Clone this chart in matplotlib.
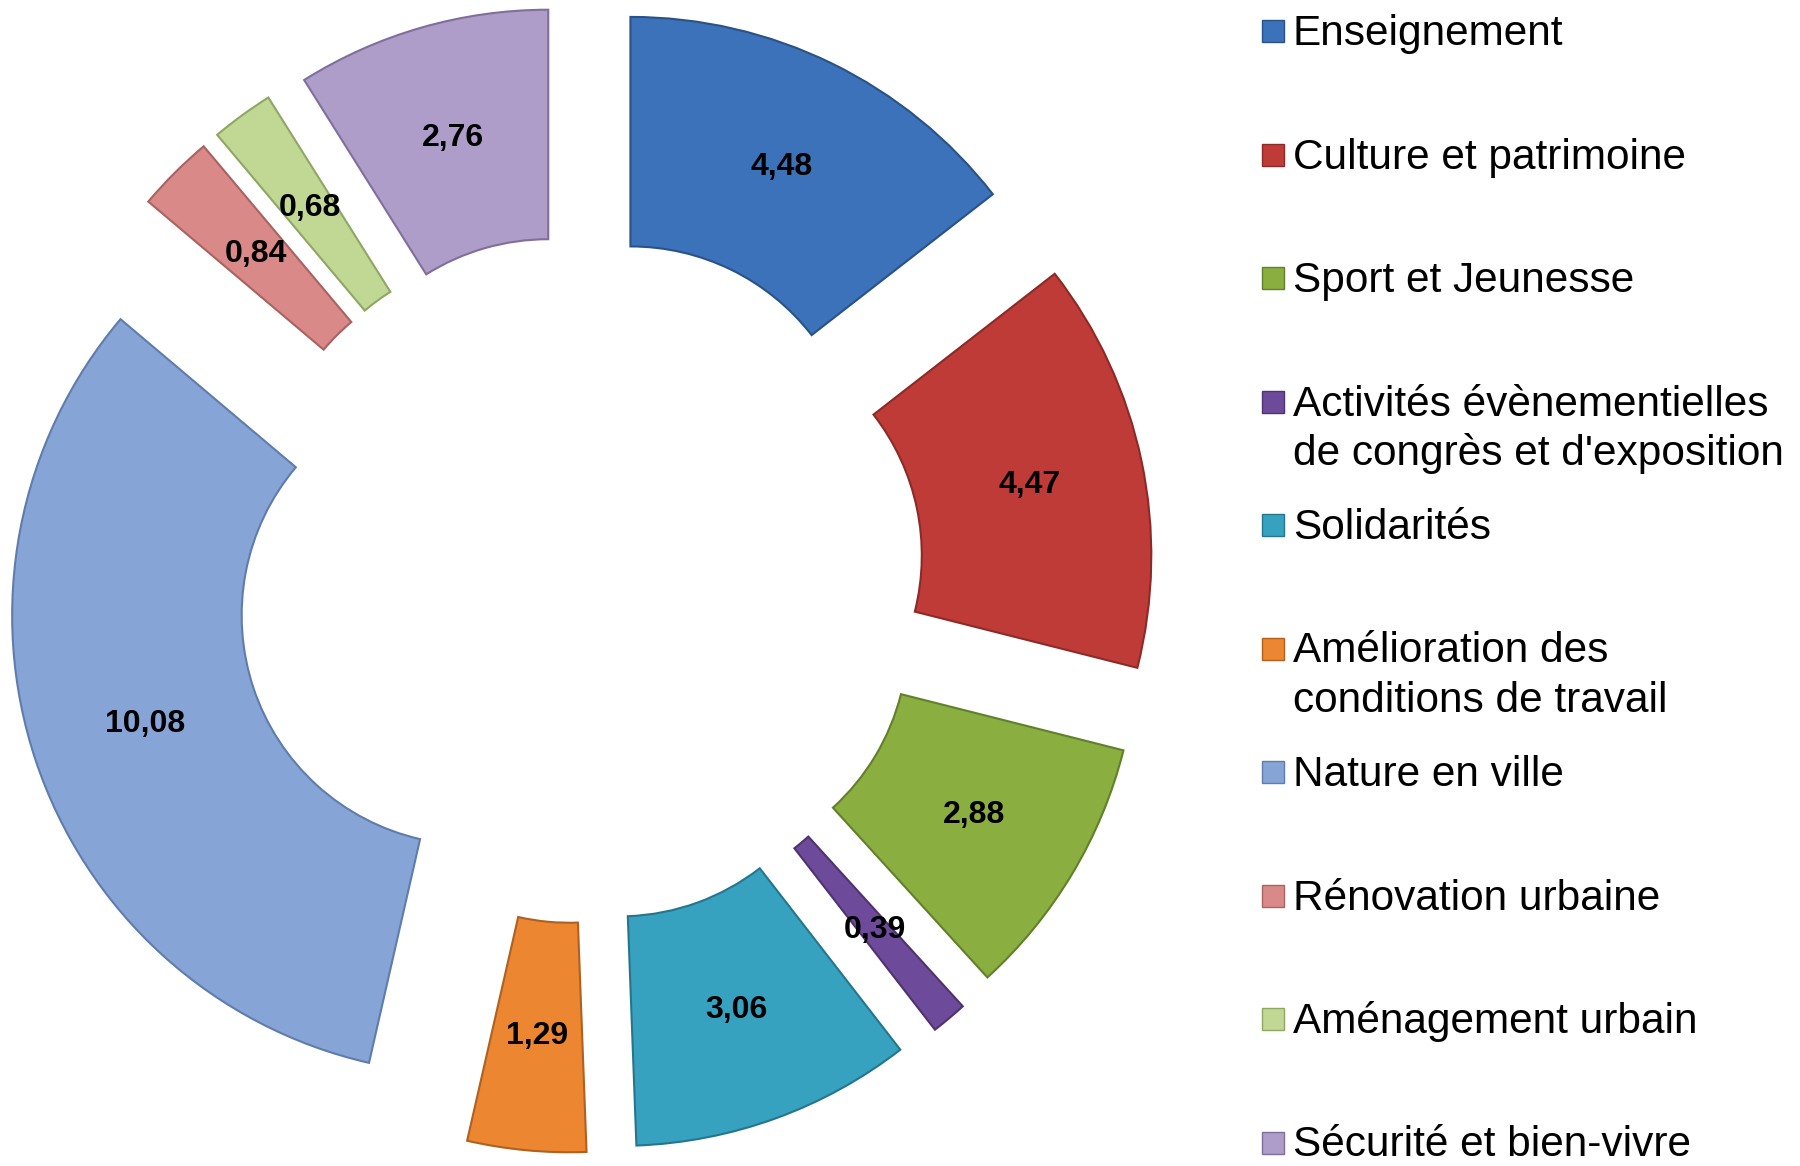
import numpy as np
import matplotlib.pyplot as plt
from matplotlib.patches import Rectangle

plt.rcParams['font.family'] = ['Liberation Sans', 'DejaVu Sans']

# 데이터
categories = ["Enseignement", "Culture et patrimoine", "Sport et Jeunesse",
              "Activités évènementielles\nde congrès et d'exposition", "Solidarités",
              "Amélioration des\nconditions de travail", "Nature en ville",
              "Rénovation urbaine", "Aménagement urbain", "Sécurité et bien-vivre"]
values = [4.48, 4.47, 2.88, 0.39, 3.06, 1.29, 10.08, 0.84, 0.68, 2.76]
value_labels = ["4,48", "4,47", "2,88", "0,39", "3,06", "1,29", "10,08", "0,84", "0,68", "2,76"]

colors = ["#3b72b9", "#bf3b37", "#8aae3f", "#6e4a9a", "#36a2c0",
          "#ec8630", "#86a5d6", "#d98987", "#c0d893", "#ae9cc9"]
edges = ["#2a5287", "#8c2a27", "#62802b", "#4e336f", "#25768d",
         "#b0601f", "#5f7cab", "#a86361", "#8ea764", "#7f6f9a"]

fig = plt.figure(figsize=(18, 11.66), dpi=100)
ax = fig.add_axes([0, 0, 1, 1])

wedges, _ = ax.pie(values, startangle=90, counterclock=False,
                   explode=[0.25] * len(values), colors=colors,
                   wedgeprops=dict(width=0.5, linewidth=1.5))
for w, ec in zip(wedges, edges):
    w.set_edgecolor(ec)

# 값 라벨 (링 중앙)
total = sum(values)
cum = 0
for v, lab in zip(values, value_labels):
    mid = 90 - (cum + v / 2) / total * 360
    cum += v
    a = np.deg2rad(mid)
    r = 0.25 + 0.75
    ax.text(r * np.cos(a), r * np.sin(a), lab, ha='center', va='center',
            fontsize=23, fontweight='bold', color='black')

# 픽셀 기준 축 범위 (중심 580, 579 px / 반지름 459 px)
px = 459.0
cx, cy = 580.0, 579.0
ax.set_xlim(-cx / px, (1800 - cx) / px)
ax.set_ylim(-(1166 - cy) / px, cy / px)
ax.set_aspect('equal', adjustable='box')
ax.axis('off')

# 범례 (수동 배치, 줄마다 기준선 지정)
slot = 123.5
line_h = 50.0
for i, (name, c, ec) in enumerate(zip(categories, colors, edges)):
    base = 45 + i * slot
    yb = 1 - base / 1166
    fig.patches.append(Rectangle((1262 / 1800, yb + 3 / 1166), 22 / 1800, 22 / 1166,
                                 transform=fig.transFigure, facecolor=c,
                                 edgecolor=ec, linewidth=1))
    for k, line in enumerate(name.split('\n')):
        fig.text(1293 / 1800, 1 - (base + k * line_h) / 1166, line,
                 ha='left', va='baseline', fontsize=30.5)

fig.savefig('out.png', dpi=100, facecolor='white')
